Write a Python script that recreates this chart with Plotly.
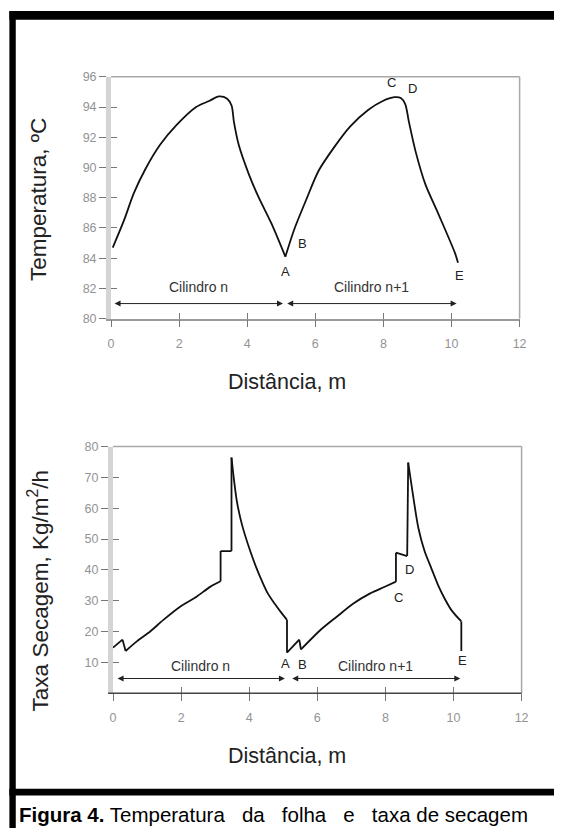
import plotly.graph_objects as go

W, H = 561, 835
FONT = "Liberation Sans, Arial, sans-serif"

# Sheet temperature (°C) along two consecutive dryer cylinders
temp_dist = [0.05, 0.38, 0.67, 1.01, 1.44, 1.92, 2.50, 2.88, 3.17, 3.41, 3.54, 3.61,
             3.75, 4.04, 4.33, 4.71, 5.12, 5.38, 5.72, 6.10, 6.54, 7.02, 7.55, 7.98,
             8.32, 8.51, 8.64, 8.75, 8.94, 9.23, 9.61, 10.10, 10.19]
temp_val = [84.7, 86.5, 88.3, 89.9, 91.5, 92.8, 94.0, 94.4, 94.7, 94.55, 94.1, 93.0,
            91.5, 89.6, 88.05, 86.3, 84.1, 85.9, 87.8, 89.8, 91.3, 92.7, 93.8, 94.4,
            94.65, 94.6, 94.2, 93.0, 91.1, 88.9, 86.95, 84.35, 83.7]
# indices where the temperature curve has a sharp corner
temp_corners = [0, 16, 32]

# Drying rate (kg/m2/h) along the same path
rate_dist = [0.0, 0.28, 0.37, 0.71, 1.10, 1.48, 1.96, 2.44, 2.85, 3.16, 3.16, 3.48,
             3.48, 3.55, 3.64, 3.79, 4.03, 4.20, 4.37, 4.55, 4.75, 4.93, 5.11, 5.11,
             5.47, 5.52, 6.10, 6.58, 7.06, 7.54, 8.00, 8.31, 8.31, 8.64, 8.67, 8.74,
             8.84, 8.97, 9.15, 9.35, 9.55, 9.75, 9.95, 10.23, 10.23]
rate_val = [14.8, 17.4, 13.7, 16.9, 20.1, 23.8, 28.0, 31.2, 34.5, 36.3, 46.1, 46.1,
            76.4, 69.5, 62.1, 54.6, 46.1, 41.0, 36.5, 32.3, 29.0, 26.3, 23.8, 13.2,
            17.4, 14.2, 20.6, 24.9, 29.1, 32.3, 34.6, 36.2, 45.6, 44.5, 74.8, 69.5,
            62.1, 53.5, 46.1, 40.5, 35.0, 30.5, 26.8, 23.3, 13.7]
# indices where the drying-rate curve has a sharp corner (steps, jumps, zigzags)
rate_corners = [0, 1, 2, 9, 10, 11, 12, 22, 23, 24, 25, 31, 32, 33, 34, 43, 44]

x_ticks = [0, 2, 4, 6, 8, 10, 12]
temp_ticks = [80, 82, 84, 86, 88, 90, 92, 94, 96]
rate_ticks = [10, 20, 30, 40, 50, 60, 70, 80]

# Point labels: (letter, x, y)
temp_points = [("A", 5.13, 83.1), ("B", 5.62, 85.0), ("C", 8.25, 95.6),
               ("D", 8.85, 95.2), ("E", 10.24, 82.86)]
rate_points = [("A", 5.08, 9.6), ("B", 5.57, 9.4), ("C", 8.38, 31.2),
               ("D", 8.7, 40.2), ("E", 10.27, 10.5)]

# Cylinder spans: (label, start, end)
temp_cyl = [("Cilindro n", 0.06, 5.05), ("Cilindro n+1", 5.13, 10.15)]
rate_cyl = [("Cilindro n", 0.09, 5.05), ("Cilindro n+1", 5.22, 10.2)]
temp_cyl_y, temp_cyl_text_y = 81.0, 82.1
rate_cyl_y, rate_cyl_text_y = 4.8, 8.9


def px_x(p):
    return p / W


def px_y(p):
    return 1 - p / H


def add_curve(fig, xs, ys, corners, xa, ya):
    # smooth between corners, straight segments stay straight
    for a, b in zip(corners[:-1], corners[1:]):
        fig.add_trace(go.Scatter(x=xs[a:b + 1], y=ys[a:b + 1], mode="lines",
                                 line=dict(color="#111", width=1.8, shape="spline",
                                           smoothing=0.8),
                                 xaxis=xa, yaxis=ya, showlegend=False, hoverinfo="skip"))


fig = go.Figure()
add_curve(fig, temp_dist, temp_val, temp_corners, "x", "y")
add_curve(fig, rate_dist, rate_val, rate_corners, "x2", "y2")
# empty traces so the overlay axes (inner half of the crossing ticks) get drawn
fig.add_trace(go.Scatter(x=[None], y=[None], xaxis="x3", yaxis="y3", showlegend=False))
fig.add_trace(go.Scatter(x=[None], y=[None], xaxis="x4", yaxis="y4", showlegend=False))

tick_font = dict(family=FONT, size=12.5, color="#939393")
top_xdom = [px_x(110), px_x(526)]
top_ydom = [px_y(317), px_y(71)]
bot_xdom = [px_x(112), px_x(528)]
bot_ydom = [px_y(698), px_y(447)]

common = dict(showgrid=False, zeroline=False, ticks="outside", ticklen=7,
              tickwidth=1, tickcolor="#777", tickfont=tick_font)
inner = dict(showgrid=False, zeroline=False, ticks="inside", ticklen=6,
             tickwidth=1, tickcolor="#777", showticklabels=False, showline=False)

fig.update_layout(
    width=W, height=H, margin=dict(l=0, r=0, t=0, b=0),
    paper_bgcolor="white", plot_bgcolor="white",
    font=dict(family=FONT),
    xaxis=dict(domain=top_xdom, range=[0, 12], anchor="y", tickvals=x_ticks,
               showline=True, linecolor="#9a9a9a", linewidth=1.5,
               ticklabelstandoff=6, **common),
    yaxis=dict(domain=top_ydom, range=[80, 96], anchor="x", tickvals=temp_ticks,
               showline=True, linecolor="#d4d4d4", linewidth=5, **common),
    xaxis2=dict(domain=bot_xdom, range=[0, 12], anchor="y2", tickvals=x_ticks,
                showline=False, ticklabelstandoff=6, **common),
    yaxis2=dict(domain=bot_ydom, range=[0, 80], anchor="x2", tickvals=rate_ticks,
                showline=True, linecolor="#d4d4d4", linewidth=5, **common),
    xaxis3=dict(overlaying="x", anchor="y3", range=[0, 12], tickvals=x_ticks, **inner),
    yaxis3=dict(overlaying="y", anchor="x3", range=[80, 96], tickvals=temp_ticks, **inner),
    xaxis4=dict(overlaying="x2", anchor="y4", range=[0, 12], tickvals=x_ticks, **inner),
    yaxis4=dict(overlaying="y2", anchor="x4", range=[0, 80], tickvals=rate_ticks, **inner),
)

shapes = []
# top and right frame lines of each plot box
for xr, yr in (("x", "y"), ("x2", "y2")):
    shapes.append(dict(type="line", xref=f"{xr} domain", yref=f"{yr} domain",
                       x0=0, x1=1, y0=1, y1=1, line=dict(color="#a8a8a8", width=1.5)))
    shapes.append(dict(type="line", xref=f"{xr} domain", yref=f"{yr} domain",
                       x0=1, x1=1, y0=0, y1=1, line=dict(color="#a8a8a8", width=1.5)))
# dark baseline of the lower plot
shapes.append(dict(type="line", xref="x2 domain", yref="y2 domain",
                   x0=-0.012, x1=1, y0=0, y1=0, line=dict(color="#444", width=1.5)))
# black page frame and caption rule
shapes.append(dict(type="rect", xref="paper", yref="paper", x0=px_x(6.5), x1=1,
                   y0=px_y(13), y1=px_y(4), fillcolor="black", line=dict(width=0)))
shapes.append(dict(type="rect", xref="paper", yref="paper", x0=px_x(6.5), x1=px_x(13),
                   y0=0, y1=px_y(4), fillcolor="black", line=dict(width=0)))
shapes.append(dict(type="rect", xref="paper", yref="paper", x0=px_x(6.5), x1=1,
                   y0=px_y(802), y1=px_y(795), fillcolor="black", line=dict(width=0)))
fig.update_layout(shapes=shapes)

ann = []
label_font = dict(family=FONT, size=13, color="#222")
cyl_font = dict(family=FONT, size=14, color="#333")
for (pts, cyl, cy, cty, xr, yr) in (
        (temp_points, temp_cyl, temp_cyl_y, temp_cyl_text_y, "x", "y"),
        (rate_points, rate_cyl, rate_cyl_y, rate_cyl_text_y, "x2", "y2")):
    for name, lx, ly in pts:
        ann.append(dict(x=lx, y=ly, xref=xr, yref=yr, text=name, showarrow=False,
                        font=label_font))
    for name, x0, x1 in cyl:
        ann.append(dict(x=(x0 + x1) / 2, y=cty, xref=xr, yref=yr, text=name,
                        showarrow=False, font=cyl_font))
        ann.append(dict(x=x1, y=cy, ax=x0, ay=cy, xref=xr, yref=yr, axref=xr, ayref=yr,
                        text="", showarrow=True, arrowhead=2, arrowside="end+start",
                        arrowsize=1.2, arrowwidth=1, arrowcolor="#222"))

centered = dict(xref="paper", yref="paper", xanchor="center", yanchor="middle",
                showarrow=False)
ytitle_font = dict(family=FONT, size=22.5, color="#222")
xtitle_font = dict(family=FONT, size=21.5, color="#222")
ann.append(dict(x=px_x(36), y=px_y(196), text="Temperatura, ºC", textangle=-90,
                font=ytitle_font, **centered))
ann.append(dict(x=px_x(36), y=px_y(594), text="Taxa Secagem, Kg/m<sup>2</sup>/h",
                textangle=-90, font=ytitle_font, **centered))
for yy in (381, 762):
    ann.append(dict(x=px_x(289), y=px_y(yy), text="Distância, m", font=xtitle_font,
                    **centered))

nb = "\u00a0"
caption = ("<b>Figura 4.</b> Temperatura" + nb * 3 + "da" + nb * 3 + "folha" + nb * 3 +
           "e" + nb * 3 + "taxa de secagem")
ann.append(dict(x=px_x(14), y=px_y(821), xref="paper", yref="paper", xanchor="left",
                yanchor="middle", text=caption, showarrow=False,
                font=dict(family=FONT, size=20.5, color="black")))
fig.update_layout(annotations=ann)

fig.write_html("out.html")
